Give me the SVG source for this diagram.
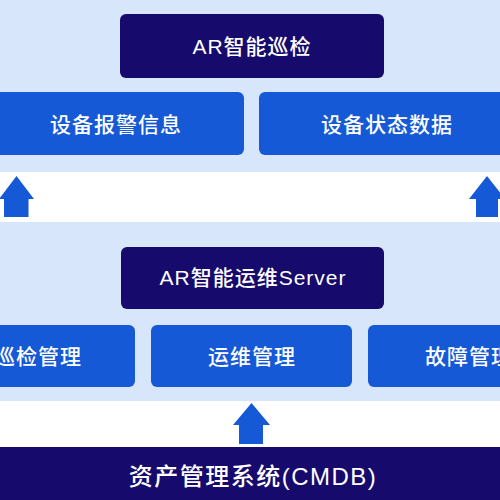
<svg xmlns="http://www.w3.org/2000/svg" width="500" height="500" viewBox="0 0 500 500">
<style>
.t{font-family:"Liberation Sans","Noto Sans CJK SC",sans-serif;font-size:21px;font-weight:500;fill:#fff;text-anchor:middle;dominant-baseline:central;letter-spacing:1px}
.big{font-size:24px;letter-spacing:1.5px}
.navy{fill:#160a6c}
.blue{fill:#1559d6}
.arr{fill:#1559d6}
</style>
<rect x="0" y="0" width="500" height="500" fill="#d8e6fc"/>
<rect x="0" y="172" width="500" height="50" fill="#ffffff"/>
<rect x="0" y="401" width="500" height="46" fill="#ffffff"/>
<g id="top">
<rect class="navy" x="120" y="14" width="264" height="64" rx="6"/>
<text class="t" x="252" y="46">AR智能巡检</text>
</g>
<g id="alarm">
<rect class="blue" x="-15" y="92" width="259" height="63" rx="6"/>
<text class="t" x="116" y="124">设备报警信息</text>
</g>
<g id="status">
<rect class="blue" x="259" y="92" width="260" height="63" rx="6"/>
<text class="t" x="387" y="124">设备状态数据</text>
</g>
<g id="server">
<rect class="navy" x="121" y="247" width="263" height="62" rx="6"/>
<text class="t" x="253" y="277">AR智能运维Server</text>
</g>
<g id="inspect">
<rect class="blue" x="-66" y="325" width="201" height="62" rx="6"/>
<text class="t" x="38" y="356">巡检管理</text>
</g>
<g id="ops">
<rect class="blue" x="151" y="325" width="201" height="62" rx="6"/>
<text class="t" x="252" y="356">运维管理</text>
</g>
<g id="fault">
<rect class="blue" x="368" y="325" width="202" height="62" rx="6"/>
<text class="t" x="469" y="356">故障管理</text>
</g>
<g id="cmdb">
<rect class="navy" x="0" y="447" width="500" height="53"/>
<text class="t big" x="253" y="476">资产管理系统(CMDB)</text>
</g>
<g id="connectors">
<path class="arr" d="M16.5 176 L34 199 L28.5 199 L28.5 217 L4 217 L4 199 L-1 199 Z"/>
<path class="arr" d="M487 176 L505 199 L498 199 L498 217 L476 217 L476 199 L469 199 Z"/>
<path class="arr" d="M251.5 403 L270 425 L263 425 L263 444 L239 444 L239 425 L233 425 Z"/>
</g>
</svg>
